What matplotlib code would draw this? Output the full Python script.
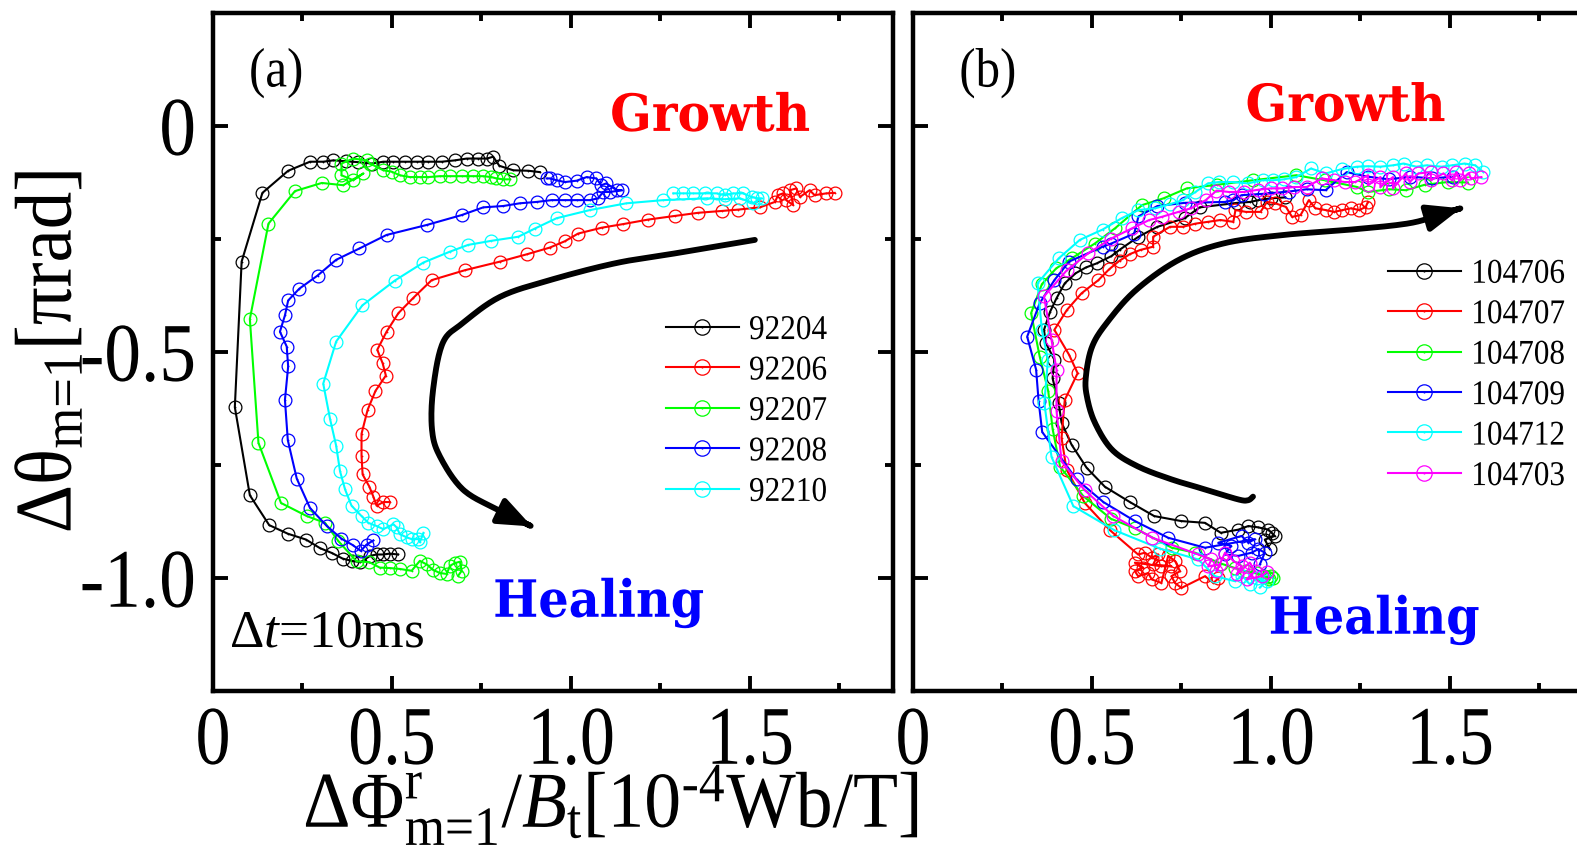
import numpy as np
import matplotlib
matplotlib.use("Agg")
import matplotlib.pyplot as plt
from matplotlib.patheffects import AbstractPathEffect
from matplotlib.transforms import Affine2D
from matplotlib.patches import FancyArrowPatch
from matplotlib.path import Path
from matplotlib.legend_handler import HandlerTuple

plt.rcParams["font.family"] = ["Liberation Serif", "DejaVu Serif"]
plt.rcParams["mathtext.fontset"] = "custom"
plt.rcParams["mathtext.rm"] = "Liberation Serif"
plt.rcParams["mathtext.it"] = "Liberation Serif:italic"
plt.rcParams["mathtext.bf"] = "Liberation Serif:bold"
plt.rcParams["axes.unicode_minus"] = False

# ---------------- axis ticks ----------------
X_TICKS = [0, 0.5, 1.0, 1.5]
X_TICKLABELS = ["0", "0.5", "1.0", "1.5"]
X_MINOR = [0.25, 0.75, 1.25, 1.75]
Y_TICKS = [0, -0.5, -1.0]
Y_TICKLABELS = ["0", "-0.5", "-1.0"]
Y_MINOR = [-0.25, -0.75]

# ---------------- panel (a) trajectories ----------------
SHOTS_A = ["92204", "92206", "92207", "92208", "92210"]
COLORS_A = ["#000000", "#ff0000", "#00ff00", "#0000ff", "#00ffff"]

A92204_X = [0.913, 0.881, 0.839, 0.800, 0.783, 0.765, 0.741, 0.709, 0.676, 0.639,
            0.601, 0.569, 0.536, 0.504, 0.476, 0.443, 0.405, 0.372, 0.336, 0.308,
            0.271, 0.210, 0.138, 0.080, 0.061, 0.103, 0.157, 0.209, 0.260, 0.299,
            0.333, 0.362, 0.387, 0.412, 0.439, 0.457, 0.476, 0.494, 0.517]
A92204_Y = [-0.102, -0.099, -0.098, -0.088, -0.068, -0.072, -0.072, -0.072, -0.076, -0.079,
            -0.079, -0.079, -0.079, -0.079, -0.079, -0.083, -0.080, -0.078, -0.076, -0.079,
            -0.079, -0.099, -0.148, -0.300, -0.622, -0.817, -0.883, -0.902, -0.915, -0.934,
            -0.945, -0.957, -0.962, -0.965, -0.951, -0.948, -0.948, -0.946, -0.948]

A92206_X = [1.737, 1.714, 1.681, 1.667, 1.640, 1.630, 1.612, 1.621, 1.602, 1.593,
            1.579, 1.570, 1.528, 1.467, 1.421, 1.356, 1.290, 1.216, 1.146, 1.086,
            1.020, 0.983, 0.941, 0.876, 0.802, 0.704, 0.611, 0.560, 0.518, 0.485,
            0.459, 0.474, 0.483, 0.454, 0.432, 0.415, 0.415, 0.418, 0.437, 0.448,
            0.457, 0.476, 0.494]
A92206_Y = [-0.148, -0.149, -0.153, -0.142, -0.157, -0.138, -0.142, -0.175, -0.164, -0.149,
            -0.153, -0.168, -0.180, -0.185, -0.188, -0.192, -0.199, -0.207, -0.217, -0.225,
            -0.238, -0.255, -0.269, -0.284, -0.300, -0.319, -0.341, -0.380, -0.414, -0.455,
            -0.495, -0.525, -0.552, -0.586, -0.628, -0.681, -0.729, -0.771, -0.798, -0.820,
            -0.840, -0.832, -0.832]

A92207_X = [0.830, 0.811, 0.792, 0.778, 0.755, 0.727, 0.695, 0.662, 0.634, 0.601,
            0.578, 0.550, 0.522, 0.499, 0.476, 0.439, 0.429, 0.392, 0.359, 0.359,
            0.392, 0.420, 0.364, 0.304, 0.229, 0.155, 0.103, 0.127, 0.190, 0.262,
            0.313, 0.350, 0.401, 0.437, 0.466, 0.494, 0.522, 0.555, 0.578, 0.597,
            0.615, 0.634, 0.653, 0.662, 0.676, 0.690, 0.695, 0.685]
A92207_Y = [-0.118, -0.118, -0.116, -0.113, -0.111, -0.111, -0.111, -0.111, -0.111, -0.113,
            -0.113, -0.113, -0.109, -0.101, -0.098, -0.083, -0.076, -0.072, -0.083, -0.109,
            -0.120, -0.105, -0.131, -0.126, -0.144, -0.216, -0.427, -0.701, -0.834, -0.863,
            -0.878, -0.918, -0.963, -0.965, -0.977, -0.978, -0.980, -0.984, -0.962, -0.970,
            -0.982, -0.989, -0.991, -0.973, -0.967, -0.964, -0.984, -0.995]

A92208_X = [0.932, 0.941, 0.960, 0.983, 1.016, 1.044, 1.071, 1.085, 1.099, 1.128,
            1.142, 1.109, 1.090, 1.076, 1.053, 1.016, 0.983, 0.946, 0.904, 0.857,
            0.811, 0.755, 0.695, 0.597, 0.485, 0.409, 0.344, 0.292, 0.241, 0.210,
            0.201, 0.187, 0.206, 0.210, 0.201, 0.209, 0.234, 0.271, 0.318, 0.359,
            0.390, 0.413, 0.429, 0.448]
A92208_Y = [-0.116, -0.116, -0.120, -0.124, -0.121, -0.113, -0.116, -0.131, -0.127, -0.142,
            -0.142, -0.146, -0.146, -0.160, -0.164, -0.164, -0.164, -0.164, -0.168, -0.171,
            -0.177, -0.180, -0.197, -0.219, -0.241, -0.271, -0.296, -0.331, -0.360, -0.386,
            -0.419, -0.455, -0.488, -0.532, -0.606, -0.695, -0.780, -0.845, -0.885, -0.913,
            -0.927, -0.940, -0.926, -0.917]

A92210_X = [1.286, 1.314, 1.342, 1.374, 1.407, 1.430, 1.453, 1.481, 1.505, 1.519,
            1.533, 1.510, 1.472, 1.430, 1.379, 1.258, 1.155, 1.053, 0.960, 0.899,
            0.853, 0.778, 0.713, 0.662, 0.588, 0.508, 0.417, 0.344, 0.308, 0.327,
            0.344, 0.355, 0.369, 0.387, 0.415, 0.434, 0.457, 0.476, 0.504, 0.513,
            0.522, 0.541, 0.555, 0.574, 0.578, 0.588]
A92210_Y = [-0.149, -0.149, -0.149, -0.149, -0.149, -0.153, -0.149, -0.149, -0.157, -0.160,
            -0.160, -0.170, -0.160, -0.162, -0.160, -0.164, -0.171, -0.186, -0.204, -0.227,
            -0.245, -0.254, -0.263, -0.278, -0.302, -0.342, -0.397, -0.477, -0.570, -0.648,
            -0.707, -0.764, -0.804, -0.840, -0.863, -0.878, -0.885, -0.892, -0.881, -0.888,
            -0.903, -0.910, -0.914, -0.914, -0.921, -0.900]

# ---------------- panel (b) trajectories ----------------
SHOTS_B = ["104706", "104707", "104708", "104709", "104712", "104703"]
COLORS_B = ["#000000", "#ff0000", "#00ff00", "#0000ff", "#00ffff", "#ff00ff"]

B104706_X = [0.997, 0.983, 1.011, 1.002, 0.993, 0.965, 0.937, 0.909, 0.860, 0.816,
             0.749, 0.674, 0.606, 0.536, 0.485, 0.443, 0.415, 0.407, 0.390, 0.395,
             0.371, 0.366, 0.383, 0.401, 0.424, 0.454, 0.483, 0.513, 0.554, 0.577,
             0.630, 0.683, 0.759, 0.801, 0.906, 0.942, 0.965, 1.000, 1.040]
B104706_Y = [-0.936, -0.915, -0.907, -0.900, -0.893, -0.888, -0.885, -0.893, -0.900, -0.878,
             -0.874, -0.863, -0.832, -0.798, -0.756, -0.705, -0.656, -0.613, -0.558, -0.517,
             -0.480, -0.451, -0.411, -0.381, -0.348, -0.326, -0.313, -0.304, -0.288, -0.274,
             -0.245, -0.223, -0.204, -0.180, -0.170, -0.168, -0.164, -0.160, -0.158]

B104707_X = [0.853, 0.839, 0.816, 0.750, 0.732, 0.722, 0.746, 0.732, 0.713, 0.694,
             0.667, 0.657, 0.629, 0.620, 0.643, 0.620, 0.694, 0.722, 0.671, 0.685,
             0.667, 0.648, 0.629, 0.550, 0.480, 0.429, 0.415, 0.424, 0.460, 0.436,
             0.395, 0.430, 0.471, 0.518, 0.548, 0.577, 0.607, 0.636, 0.671, 0.671,
             0.718, 0.754, 0.789, 0.824, 0.859, 0.895, 0.901, 0.930, 0.971, 0.989,
             1.012, 1.042, 1.059, 1.083, 1.106, 1.124, 1.153, 1.177, 1.200, 1.224,
             1.247, 1.265, 1.271]
B104707_Y = [-1.001, -1.011, -0.996, -1.022, -1.011, -0.996, -0.985, -0.962, -0.951, -1.011,
             -1.003, -0.989, -0.996, -0.985, -0.977, -0.966, -0.974, -0.974, -0.970, -0.948,
             -0.955, -0.944, -0.948, -0.894, -0.834, -0.760, -0.690, -0.606, -0.547, -0.506,
             -0.451, -0.407, -0.370, -0.341, -0.317, -0.298, -0.283, -0.274, -0.267, -0.245,
             -0.223, -0.223, -0.216, -0.212, -0.208, -0.212, -0.186, -0.190, -0.190, -0.168,
             -0.171, -0.179, -0.201, -0.197, -0.164, -0.182, -0.186, -0.190, -0.186, -0.182,
             -0.186, -0.179, -0.168]

B104708_X = [1.006, 1.000, 0.995, 0.990, 0.980, 0.960, 0.930, 0.900, 0.860, 0.788,
             0.723, 0.620, 0.553, 0.476, 0.411, 0.390, 0.378, 0.354, 0.330, 0.360,
             0.400, 0.443, 0.508, 0.565, 0.640, 0.700, 0.765, 0.850, 0.950, 1.071,
             1.150, 1.241, 1.271, 1.330, 1.377, 1.430, 1.494, 1.550]
B104708_Y = [-1.001, -0.995, -1.003, -0.998, -0.995, -0.990, -0.985, -0.978, -0.968, -0.944,
             -0.933, -0.890, -0.869, -0.819, -0.754, -0.670, -0.587, -0.510, -0.414, -0.350,
             -0.315, -0.293, -0.260, -0.226, -0.175, -0.160, -0.138, -0.130, -0.120, -0.109,
             -0.120, -0.135, -0.146, -0.140, -0.142, -0.130, -0.124, -0.125]

B104709_X = [0.969, 0.983, 0.965, 0.946, 0.909, 0.871, 0.889, 0.853, 0.918, 0.937,
             0.955, 0.816, 0.713, 0.620, 0.532, 0.457, 0.361, 0.351, 0.344, 0.319,
             0.354, 0.395, 0.436, 0.530, 0.554, 0.618, 0.630, 0.683, 0.760, 0.871,
             0.895, 0.918, 0.980, 1.050, 1.100, 1.153, 1.212, 1.270, 1.330, 1.390,
             1.450, 1.510]
B104709_Y = [-0.970, -0.944, -0.936, -0.944, -0.951, -0.948, -0.929, -0.922, -0.907, -0.922,
             -0.914, -0.933, -0.911, -0.874, -0.832, -0.782, -0.677, -0.609, -0.539, -0.466,
             -0.392, -0.341, -0.300, -0.267, -0.260, -0.238, -0.200, -0.177, -0.170, -0.168,
             -0.164, -0.153, -0.150, -0.145, -0.140, -0.142, -0.102, -0.112, -0.118, -0.112,
             -0.116, -0.112]

B104712_X = [0.969, 0.988, 0.960, 0.941, 0.920, 0.899, 0.844, 0.797, 0.690, 0.562,
             0.448, 0.387, 0.367, 0.377, 0.360, 0.348, 0.407, 0.466, 0.530, 0.583,
             0.630, 0.677, 0.718, 0.754, 0.789, 0.824, 0.854, 0.895, 0.936, 0.977,
             1.006, 1.036, 1.071, 1.112, 1.153, 1.200, 1.241, 1.271, 1.306, 1.341,
             1.371, 1.406, 1.435, 1.477, 1.506, 1.541, 1.571, 1.594]
B104712_Y = [-1.021, -1.007, -1.000, -1.014, -0.995, -1.007, -0.996, -0.959, -0.935, -0.894,
             -0.841, -0.732, -0.613, -0.517, -0.451, -0.348, -0.293, -0.252, -0.229, -0.204,
             -0.186, -0.182, -0.173, -0.164, -0.146, -0.127, -0.124, -0.124, -0.127, -0.120,
             -0.120, -0.118, -0.113, -0.094, -0.105, -0.095, -0.090, -0.089, -0.090, -0.087,
             -0.083, -0.090, -0.087, -0.090, -0.087, -0.083, -0.087, -0.102]

B104703_X = [0.988, 0.974, 0.932, 0.955, 0.941, 0.904, 0.918, 0.895, 0.872, 0.848,
             0.858, 0.825, 0.834, 0.797, 0.669, 0.560, 0.480, 0.415, 0.401, 0.401,
             0.387, 0.366, 0.430, 0.489, 0.554, 0.613, 0.660, 0.695, 0.742, 0.777,
             0.818, 0.848, 0.883, 0.924, 0.965, 1.000, 1.030, 1.065, 1.100, 1.142,
             1.177, 1.206, 1.236, 1.271, 1.271, 1.306, 1.306, 1.341, 1.341, 1.377,
             1.388, 1.412, 1.447, 1.447, 1.482, 1.506, 1.518, 1.529, 1.553, 1.559,
             1.588]
B104703_Y = [-0.986, -0.996, -1.003, -0.985, -0.966, -0.992, -0.974, -0.962, -0.944, -0.985,
             -0.970, -0.974, -0.959, -0.948, -0.911, -0.863, -0.806, -0.742, -0.630, -0.539,
             -0.473, -0.377, -0.319, -0.282, -0.249, -0.226, -0.208, -0.201, -0.190, -0.182,
             -0.164, -0.143, -0.146, -0.146, -0.141, -0.138, -0.138, -0.135, -0.135, -0.116,
             -0.120, -0.124, -0.124, -0.109, -0.131, -0.113, -0.135, -0.113, -0.138, -0.105,
             -0.124, -0.105, -0.102, -0.120, -0.105, -0.120, -0.102, -0.120, -0.105, -0.116,
             -0.113]

# guide points of the hand-drawn evolution arrows (data coordinates)
ARROW_A_X = [1.514, 1.313, 1.128, 0.941, 0.802, 0.698, 0.642, 0.615, 0.612, 0.634, 0.698, 0.793, 0.891]
ARROW_A_Y = [-0.252, -0.279, -0.303, -0.341, -0.378, -0.436, -0.480, -0.583, -0.672, -0.731, -0.804, -0.848, -0.886]
ARROW_B_X = [0.950, 0.936, 0.908, 0.816, 0.723, 0.628, 0.556, 0.508, 0.486, 0.483, 0.500, 0.542,
             0.623, 0.743, 0.872, 1.036, 1.212, 1.388, 1.483, 1.531]
ARROW_B_Y = [-0.820, -0.828, -0.826, -0.804, -0.782, -0.753, -0.716, -0.656, -0.599, -0.555, -0.489, -0.435,
             -0.363, -0.296, -0.259, -0.241, -0.230, -0.215, -0.193, -0.182]


class Condense(AbstractPathEffect):
    """Draw text glyphs narrowed along the baseline (condensed face)."""

    def __init__(self, sx=0.82, anchor="center"):
        super().__init__()
        self.sx = sx
        self.anchor = anchor

    def draw_path(self, renderer, gc, tpath, affine, rgbFace=None):
        ext = tpath.get_extents()
        if self.anchor == "left":
            cx = ext.x0
        elif self.anchor == "right":
            cx = ext.x1
        else:
            cx = 0.5 * (ext.x0 + ext.x1)
        t = Affine2D().translate(-cx, 0).scale(self.sx, 1.0).translate(cx, 0) + affine
        renderer.draw_path(gc, tpath, t, rgbFace)


def catmull_rom(px, py, n=16):
    P = np.column_stack([px, py]).astype(float)
    P = np.vstack([P[0], P, P[-1]])
    segs = []
    t = np.linspace(0, 1, n, endpoint=False)[:, None]
    for i in range(1, len(P) - 2):
        p0, p1, p2, p3 = P[i - 1], P[i], P[i + 1], P[i + 2]
        segs.append(0.5 * (2 * p1 + (-p0 + p2) * t + (2 * p0 - 5 * p1 + 4 * p2 - p3) * t ** 2
                           + (-p0 + 3 * p1 - 3 * p2 + p3) * t ** 3))
    segs.append(P[-2][None, :])
    return np.vstack(segs)


def draw_arrow(ax, px, py):
    verts = catmull_rom(px, py)
    arr = FancyArrowPatch(path=Path(verts), arrowstyle="-|>,head_length=0.5,head_width=0.2",
                          mutation_scale=40, lw=4.2, color="black",
                          transform=ax.transData, zorder=4)
    ax.add_patch(arr)


def draw_series(ax, xs, ys, color, label):
    line, = ax.plot(xs, ys, "-", color=color, lw=1.5, marker="o", ms=9.2,
                    mfc="none", mec=color, mew=0.9, label=label, zorder=3)
    dot, = ax.plot(xs, ys, ls="none", marker="o", ms=1.3, mfc=color, mec=color,
                   mew=0, zorder=3)
    return (line, dot)


def style_axes(ax, left_labels):
    ax.set_xlim(0, 1.9)
    ax.set_ylim(-1.25, 0.25)
    ax.set_xticks(X_TICKS)
    ax.set_xticklabels(X_TICKLABELS)
    ax.set_xticks(X_MINOR, minor=True)
    ax.set_yticks(Y_TICKS)
    ax.set_yticklabels(Y_TICKLABELS)
    ax.set_yticks(Y_MINOR, minor=True)
    ax.tick_params(which="both", direction="in", top=True, right=True, width=2.8,
                   labelsize=60, labelleft=left_labels)
    ax.tick_params(which="major", length=11)
    ax.tick_params(which="minor", length=6)
    ax.tick_params(axis="x", pad=11)
    ax.tick_params(axis="y", pad=12)
    for s in ax.spines.values():
        s.set_linewidth(3.2)
    for lbl in ax.get_xticklabels():
        lbl.set_path_effects([Condense(0.84, "center")])
    for lbl in ax.get_yticklabels():
        lbl.set_path_effects([Condense(0.88, "right")])


def add_legend(ax, handles, labels, anchor):
    leg = ax.legend(handles, labels, handler_map={tuple: HandlerTuple(ndivide=1, pad=0)},
                    loc="upper left", bbox_to_anchor=anchor, frameon=False, fontsize=25,
                    handlelength=2.1, handletextpad=0.29, labelspacing=0.215,
                    markerscale=1.2, borderpad=0, borderaxespad=0)
    for t in leg.get_texts():
        t.set_path_effects([Condense(0.9, "left")])
    return leg


fig = plt.figure(figsize=(15.77, 8.47), dpi=100)
axA = fig.add_axes([213 / 1577, 1 - 691 / 847, 680 / 1577, 678 / 847])
axB = fig.add_axes([913 / 1577, 1 - 691 / 847, 680 / 1577, 678 / 847])

# ---- panel (a)
series_a = [(A92204_X, A92204_Y), (A92206_X, A92206_Y), (A92207_X, A92207_Y),
            (A92208_X, A92208_Y), (A92210_X, A92210_Y)]
handles_a = [draw_series(axA, x, y, c, s) for (x, y), c, s in zip(series_a, COLORS_A, SHOTS_A)]
draw_arrow(axA, ARROW_A_X, ARROW_A_Y)
style_axes(axA, True)
add_legend(axA, handles_a, SHOTS_A, (0.666, 0.556))

axA.set_ylabel("Δθ$_{\\text{m=1}}$[πrad]", fontsize=58, va="center")
axA.yaxis.set_label_coords(-0.238, 0.5)
axA.yaxis.label.set_path_effects([Condense(0.93, "center")])
axA.set_xlabel("ΔΦ$^{\\text{r}}_{\\text{m=1}}$/$B_{\\text{t}}$[10$^{\\text{-4}}$Wb/T]",
               fontsize=57, va="center")
axA.xaxis.set_label_coords(0.585, -0.17)
axA.xaxis.label.set_path_effects([Condense(0.93, "center")])

axA.text(0.093, 0.912, "(a)", transform=axA.transAxes, ha="center", va="center",
         fontsize=40, path_effects=[Condense(0.88, "center")])
axA.text(0.024, 0.085, "Δ$t$=10ms", transform=axA.transAxes, ha="left", va="center",
         fontsize=38.5)
axA.text(0.731, 0.846, "Growth", transform=axA.transAxes, ha="center", va="center",
         fontsize=37, color="#ff0000", family="DejaVu Serif", weight="bold",
         path_effects=[Condense(0.95, "center")])
axA.text(0.567, 0.129, "Healing", transform=axA.transAxes, ha="center", va="center",
         fontsize=37, color="#0000ff", family="DejaVu Serif", weight="bold",
         path_effects=[Condense(0.93, "center")])

# ---- panel (b)
series_b = [(B104706_X, B104706_Y), (B104707_X, B104707_Y), (B104708_X, B104708_Y),
            (B104709_X, B104709_Y), (B104712_X, B104712_Y), (B104703_X, B104703_Y)]
handles_b = [draw_series(axB, x, y, c, s) for (x, y), c, s in zip(series_b, COLORS_B, SHOTS_B)]
draw_arrow(axB, ARROW_B_X, ARROW_B_Y)
style_axes(axB, False)
add_legend(axB, handles_b, SHOTS_B, (0.6985, 0.639))

axB.text(0.110, 0.912, "(b)", transform=axB.transAxes, ha="center", va="center",
         fontsize=40, path_effects=[Condense(0.88, "center")])
axB.text(0.636, 0.8605, "Growth", transform=axB.transAxes, ha="center", va="center",
         fontsize=37, color="#ff0000", family="DejaVu Serif", weight="bold",
         path_effects=[Condense(0.95, "center")])
axB.text(0.678, 0.104, "Healing", transform=axB.transAxes, ha="center", va="center",
         fontsize=37, color="#0000ff", family="DejaVu Serif", weight="bold",
         path_effects=[Condense(0.93, "center")])

fig.savefig("out.png", dpi=100)
